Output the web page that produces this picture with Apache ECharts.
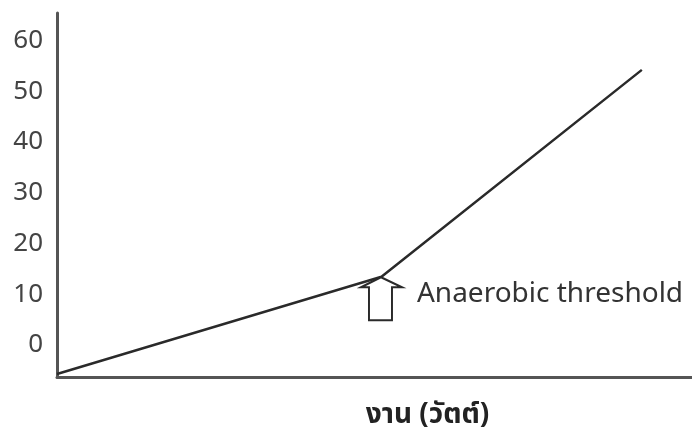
<!DOCTYPE html>
<html>
<head>
<meta charset="utf-8">
<script src="https://cdn.jsdelivr.net/npm/echarts@6/dist/echarts.min.js"></script>
<style>
  html, body { margin: 0; padding: 0; background: #fff; }
  #chart { width: 692px; height: 430px; }
</style>
</head>
<body>
<div id="chart"></div>
<script>
// work (watts), arbitrary units across the x axis
const workX = [0, 51.1, 92.1];
// lactate-like response
const response = [-5.7, 13.45, 54.2];
const yTicks = [0, 10, 20, 30, 40, 50, 60];
const thresholdLabel = 'Anaerobic threshold';
const xName = 'งาน (วัตต์)';

const font = '"Noto Sans", "Noto Sans Thai", "DejaVu Sans", sans-serif';

let myChart = echarts.init(document.getElementById('chart'));

let option = {
  animation: false,
  grid: {
    left: 57,
    right: 0,
    top: 13,
    bottom: 53,
    outerBoundsMode: 'none'
  },
  xAxis: {
    type: 'value',
    min: 0,
    max: 100,
    name: xName,
    nameLocation: 'middle',
    nameGap: 24,
    nameTextStyle: {
      color: '#222',
      fontSize: 28,
      fontWeight: 'bold',
      fontFamily: font,
      padding: [0, 0, 0, 106]
    },
    axisLine: { onZero: false, lineStyle: { color: '#555', width: 3 } },
    axisTick: { show: false },
    axisLabel: { show: false },
    splitLine: { show: false }
  },
  yAxis: {
    type: 'value',
    min: -6.3,
    max: 65.4,
    axisLine: { show: true, onZero: false, lineStyle: { color: '#555', width: 3 } },
    axisTick: { show: false },
    splitLine: { show: false },
    axisLabel: {
      customValues: yTicks,
      color: '#444',
      fontSize: 26,
      fontFamily: font,
      margin: 14
    }
  },
  series: [{
    type: 'line',
    data: workX.map((x, i) => [x, response[i]]),
    symbol: 'none',
    lineStyle: { color: '#2a2a2a', width: 2.5 },
    markPoint: {
      silent: true,
      symbol: 'path://M20,0 L41,10 L31,10 L31,43 L8,43 L8,10 L0,10 Z',
      symbolSize: [41, 43],
      symbolOffset: [0, 22],
      itemStyle: { color: '#fff', borderColor: '#2a2a2a', borderWidth: 2 },
      label: {
        show: true,
        position: 'right',
        distance: 14,
        offset: [0, -5],
        formatter: thresholdLabel,
        color: '#333',
        fontSize: 28,
        fontFamily: font
      },
      data: [{ coord: [workX[1], response[1]] }]
    }
  }]
};

myChart.setOption(option);
</script>
</body>
</html>
